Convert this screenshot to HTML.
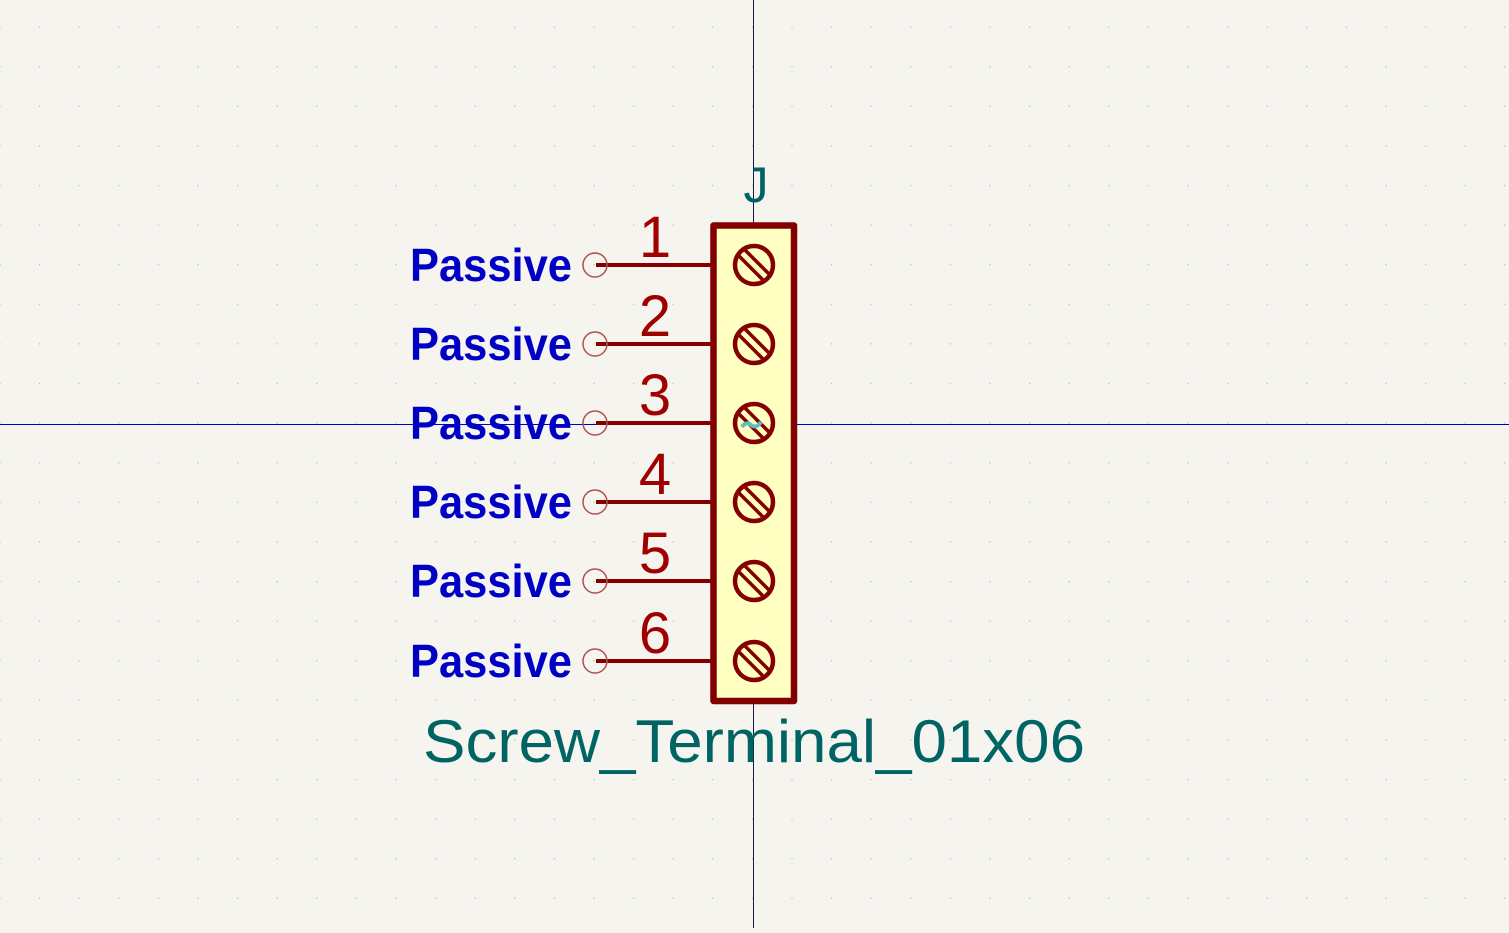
<!DOCTYPE html>
<html><head><style>html,body{margin:0;padding:0;background:#f5f4ef;overflow:hidden}</style></head>
<body>
<svg width="1509" height="928" viewBox="0 0 1509 928" xmlns="http://www.w3.org/2000/svg">
<defs>
<pattern id="g" x="39" y="26.5" width="39.6" height="39.6" patternUnits="userSpaceOnUse">
<rect width="1.2" height="1.2" fill="#b8b8b4"/>
</pattern>
<g id="screw">
<circle cx="0" cy="0" r="19" fill="none" stroke="#840000" stroke-width="4.5"/>
<line x1="-15" y1="-9" x2="9" y2="15" stroke="#840000" stroke-width="3.5"/>
<line x1="-9" y1="-15" x2="15" y2="9" stroke="#840000" stroke-width="3.5"/>
</g>
</defs>
<rect width="1509" height="928" fill="#f5f4ef"/>
<rect width="1509" height="928" fill="url(#g)"/>
<line x1="0" y1="424.5" x2="1509" y2="424.5" stroke="#0000c0" stroke-width="1"/>
<line x1="753.5" y1="0" x2="753.5" y2="928" stroke="#1a1a40" stroke-width="1"/>
<rect x="713.5" y="225.5" width="80.5" height="475.5" fill="#ffffc2" stroke="#840000" stroke-width="6.5" stroke-linejoin="round"/>
<g font-family="Liberation Sans, sans-serif">
<g id="pins">
</g>
</g>
<g stroke="#840000" stroke-width="4">
<line x1="596" y1="265" x2="712" y2="265"/>
<line x1="596" y1="344" x2="712" y2="344"/>
<line x1="596" y1="423" x2="712" y2="423"/>
<line x1="596" y1="502" x2="712" y2="502"/>
<line x1="596" y1="581" x2="712" y2="581"/>
<line x1="596" y1="661" x2="712" y2="661"/>
</g>
<g fill="none" stroke="#b05050" stroke-width="1.5">
<circle cx="595" cy="265" r="12"/><circle cx="595" cy="344" r="12"/><circle cx="595" cy="423" r="12"/>
<circle cx="595" cy="502" r="12"/><circle cx="595" cy="581" r="12"/><circle cx="595" cy="661" r="12"/>
</g>
<use href="#screw" x="754" y="265"/><use href="#screw" x="754" y="344"/><use href="#screw" x="754" y="423"/>
<use href="#screw" x="754" y="502"/><use href="#screw" x="754" y="581"/><use href="#screw" x="754" y="661"/>
<path d="M742 427 q4 -6 9 -2 q5 4 10 -3" fill="none" stroke="#5cc0c0" stroke-width="4"/>
<g font-family="Liberation Sans, sans-serif" font-size="46" font-weight="bold" fill="#0000c4">
<text x="410" y="281" textLength="162" lengthAdjust="spacingAndGlyphs">Passive</text>
<text x="410" y="360" textLength="162" lengthAdjust="spacingAndGlyphs">Passive</text>
<text x="410" y="439" textLength="162" lengthAdjust="spacingAndGlyphs">Passive</text>
<text x="410" y="518" textLength="162" lengthAdjust="spacingAndGlyphs">Passive</text>
<text x="410" y="597" textLength="162" lengthAdjust="spacingAndGlyphs">Passive</text>
<text x="410" y="677" textLength="162" lengthAdjust="spacingAndGlyphs">Passive</text>
</g>
<g font-family="Liberation Sans, sans-serif" font-size="58" fill="#a00000" text-anchor="middle">
<text x="655" y="257">1</text><text x="655" y="336">2</text><text x="655" y="415">3</text>
<text x="655" y="494">4</text><text x="655" y="573">5</text><text x="655" y="653">6</text>
</g>
<text x="756" y="202" font-family="Liberation Sans, sans-serif" font-size="50" fill="#006464" text-anchor="middle">J</text>
<text x="423" y="762" font-family="Liberation Sans, sans-serif" font-size="60" fill="#006464" textLength="662" lengthAdjust="spacingAndGlyphs">Screw_Terminal_01x06</text>
</svg>
</body></html>
